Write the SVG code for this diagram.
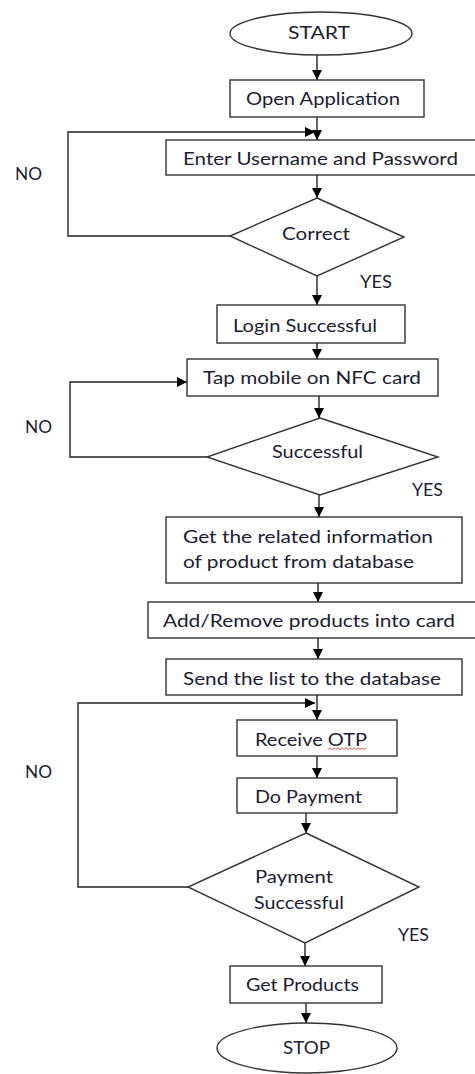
<svg xmlns="http://www.w3.org/2000/svg" width="475" height="1074" viewBox="0 0 475 1074">
<style>
.s{fill:#fff;stroke:#333;stroke-width:1.4}
.t{font-family:Lato,"Open Sans","Liberation Sans",sans-serif;font-size:17px;fill:#1c1c30}
.c{fill:none;stroke:#222;stroke-width:1.4}
</style>
<defs>
<marker id="ah" markerUnits="userSpaceOnUse" markerWidth="11" markerHeight="11" refX="10" refY="5" orient="auto">
<path d="M0,0 L10,5 L0,10 z" fill="#000"/>
</marker>
</defs>
<rect width="475" height="1074" fill="#fff"/>
<g id="connectors">
<path class="c" d="M317,55 L317,80" marker-end="url(#ah)"/>
<path class="c" d="M317,117 L317,140" marker-end="url(#ah)"/>
<path class="c" d="M317,175 L317,198" marker-end="url(#ah)"/>
<path class="c" d="M230,236 L68,236 L68,132 L315,132" marker-end="url(#ah)"/>
<path class="c" d="M317,276 L317,305" marker-end="url(#ah)"/>
<path class="c" d="M317,343 L317,359" marker-end="url(#ah)"/>
<path class="c" d="M319,396 L319,418" marker-end="url(#ah)"/>
<path class="c" d="M207,457 L70,457 L70,382 L187,382" marker-end="url(#ah)"/>
<path class="c" d="M319,495 L319,517" marker-end="url(#ah)"/>
<path class="c" d="M318,583 L318,602" marker-end="url(#ah)"/>
<path class="c" d="M318,638 L318,659" marker-end="url(#ah)"/>
<path class="c" d="M317,695 L317,720" marker-end="url(#ah)"/>
<path class="c" d="M188,887 L78,887 L78,703 L315,703" marker-end="url(#ah)"/>
<path class="c" d="M317,756 L317,778" marker-end="url(#ah)"/>
<path class="c" d="M306,813 L306,833" marker-end="url(#ah)"/>
<path class="c" d="M305,943 L305,966" marker-end="url(#ah)"/>
<path class="c" d="M306,1003 L306,1023" marker-end="url(#ah)"/>
</g>
<g id="start"><ellipse class="s" cx="321" cy="33.5" rx="91" ry="21.5"/><text class="t" x="288" y="39" textLength="62" lengthAdjust="spacingAndGlyphs" font-size="19">START</text></g>
<g id="open"><rect class="s" x="230" y="80" width="194" height="37"/><text class="t" x="246" y="105" textLength="154" lengthAdjust="spacingAndGlyphs">Open Application</text></g>
<g id="enter"><rect class="s" x="166" y="140" width="314" height="35"/><text class="t" x="183" y="165" textLength="275" lengthAdjust="spacingAndGlyphs">Enter Username and Password</text></g>
<g id="correct"><polygon class="s" points="317,198 404,237 317,276 230,236"/><text class="t" x="282" y="240" textLength="68" lengthAdjust="spacingAndGlyphs">Correct</text></g>
<g id="lbl-no1"><text class="t" x="15" y="180" textLength="27" lengthAdjust="spacingAndGlyphs">NO</text></g>
<g id="lbl-yes1"><text class="t" x="360" y="288" textLength="32" lengthAdjust="spacingAndGlyphs">YES</text></g>
<g id="login"><rect class="s" x="217" y="305" width="188" height="38"/><text class="t" x="233" y="332" textLength="144" lengthAdjust="spacingAndGlyphs">Login Successful</text></g>
<g id="tap"><rect class="s" x="187" y="359" width="251" height="37"/><text class="t" x="203" y="384" textLength="218" lengthAdjust="spacingAndGlyphs">Tap mobile on NFC card</text></g>
<g id="successful"><polygon class="s" points="320,418 438,457 320,495 207,457"/><text class="t" x="272" y="458" textLength="91" lengthAdjust="spacingAndGlyphs">Successful</text></g>
<g id="lbl-no2"><text class="t" x="25" y="433" textLength="27" lengthAdjust="spacingAndGlyphs">NO</text></g>
<g id="lbl-yes2"><text class="t" x="412" y="496" textLength="31" lengthAdjust="spacingAndGlyphs">YES</text></g>
<g id="getinfo"><rect class="s" x="166" y="517" width="296" height="66"/><text class="t" x="183" y="543" textLength="250" lengthAdjust="spacingAndGlyphs">Get the related information</text><text class="t" x="183" y="568" textLength="231" lengthAdjust="spacingAndGlyphs">of product from database</text></g>
<g id="add"><rect class="s" x="148" y="602" width="332" height="36"/><text class="t" x="163" y="627" textLength="292" lengthAdjust="spacingAndGlyphs">Add/Remove products into card</text></g>
<g id="send"><rect class="s" x="166" y="659" width="296" height="36"/><text class="t" x="183" y="685" textLength="258" lengthAdjust="spacingAndGlyphs">Send the list to the database</text></g>
<g id="receive"><rect class="s" x="237" y="720" width="160" height="36"/><text class="t" x="255" y="746" textLength="112" lengthAdjust="spacingAndGlyphs">Receive OTP</text><path d="M328,749.5 l2,-1.5 l2,1.5 l2,-1.5 l2,1.5 l2,-1.5 l2,1.5 l2,-1.5 l2,1.5 l2,-1.5 l2,1.5 l2,-1.5 l2,1.5 l2,-1.5 l2,1.5 l2,-1.5 l2,1.5 l2,-1.5 l2,1.5 l2,-1.5" fill="none" stroke="#e03030" stroke-width="0.8"/></g>
<g id="lbl-no3"><text class="t" x="25" y="778" textLength="27" lengthAdjust="spacingAndGlyphs">NO</text></g>
<g id="dopay"><rect class="s" x="237" y="778" width="160" height="35"/><text class="t" x="255" y="803" textLength="107" lengthAdjust="spacingAndGlyphs">Do Payment</text></g>
<g id="paysucc"><polygon class="s" points="306,833 419,887 305,943 188,887"/><text class="t" x="255" y="883" textLength="78" lengthAdjust="spacingAndGlyphs">Payment</text><text class="t" x="254" y="909" textLength="90" lengthAdjust="spacingAndGlyphs">Successful</text></g>
<g id="lbl-yes3"><text class="t" x="398" y="941" textLength="31" lengthAdjust="spacingAndGlyphs">YES</text></g>
<g id="getproducts"><rect class="s" x="230" y="966" width="152" height="37"/><text class="t" x="246" y="991" textLength="113" lengthAdjust="spacingAndGlyphs">Get Products</text></g>
<g id="stop"><ellipse class="s" cx="307" cy="1048" rx="90" ry="25"/><text class="t" x="283" y="1054" textLength="47" lengthAdjust="spacingAndGlyphs">STOP</text></g>
</svg>
